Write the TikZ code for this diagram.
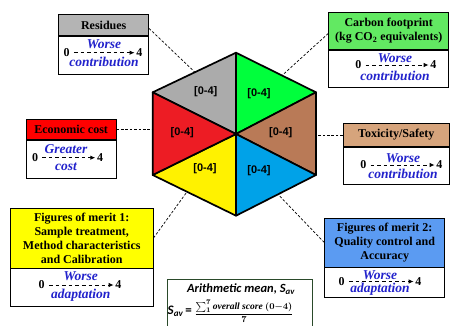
\documentclass[tikz,border=0pt]{standalone}
\usepackage{fontspec}
\setmainfont{Liberation Serif}
\newfontfamily\hexfont{Liberation Sans}
\newfontfamily\calfont{Carlito}
\usetikzlibrary{arrows.meta}
\definecolor{hgray}{HTML}{ABABAB}
\definecolor{hgreen}{HTML}{00FF3C}
\definecolor{hred}{HTML}{ED1C24}
\definecolor{hbrown}{HTML}{B97A57}
\definecolor{hyellow}{HTML}{FFF200}
\definecolor{hblue}{HTML}{00A2E8}
\definecolor{cgray}{HTML}{B4B4B4}
\definecolor{cgreen}{HTML}{62E962}
\definecolor{cred}{HTML}{FF0000}
\definecolor{ctan}{HTML}{D6A47C}
\definecolor{cyellow}{HTML}{FFFF00}
\definecolor{cblue}{HTML}{5B9BF2}
\definecolor{wblue}{HTML}{2222CC}
\definecolor{mgreen}{HTML}{2A4A2A}
\tikzset{
  hdr/.style={draw, line width=0.8pt, inner sep=0pt, anchor=north west,
    font=\fontsize{12}{14}\selectfont\bfseries, align=center},
  bdy/.style={draw, fill=white, line width=0.8pt, inner sep=0pt, anchor=north west},
  numtxt/.style={inner sep=0pt, font=\fontsize{12}{12}\selectfont\bfseries},
  wordtxt/.style={inner sep=0pt, text=wblue, font=\fontsize{13.5}{14}\selectfont\bfseries\itshape},
  scalearrow/.style={line width=0.9pt, dash pattern=on 3.6pt off 3pt, -{Latex[length=5pt,width=4.5pt]}},
  conn/.style={line width=0.7pt, dash pattern=on 2.6pt off 1.8pt},
  hexlab/.style={inner sep=0pt, font=\fontsize{11}{12}\selectfont\hexfont\bfseries},
  sector/.style={draw, line width=1.7pt, line join=round}
}
% prefix, x0, x4, y, xc, top word, ytop, bottom word, ybot
\newcommand{\mkscale}[9]{%
  \node[numtxt] (#1-0) at (#2,#4) {0};
  \node[numtxt] (#1-4) at (#3,#4) {4};
  \node[wordtxt] (#1-t) at (#5,#7) {#6};
  \node[wordtxt] (#1-u) at (#5,#9) {#8};
  \draw[scalearrow] ([xshift=4pt]#1-0.east) -- ([xshift=-1.5pt]#1-4.west);
}
\begin{document}
\begin{tikzpicture}[x=1pt,y=-1pt]
\useasboundingbox (0,0) rectangle (451,325);
% hexagon coordinates
\coordinate (C) at (236,134);
\coordinate (T) at (236,52.7);
\coordinate (UL) at (152.7,92.3);
\coordinate (UR) at (316,92.3);
\coordinate (LL) at (152.7,175);
\coordinate (LR) at (316,175);
\coordinate (B) at (236,215.7);
\coordinate (resE) at (195,72.3);
\coordinate (carE) at (282,75.5);
\coordinate (fmoE) at (187,191.8);
\coordinate (fmtE) at (278,194.3);

% boxes
\node[hdr, fill=cgray, minimum width=90pt, minimum height=20.7pt] (res-h) at (58.3,14.3) {Residues};
\node[bdy, minimum width=90pt, minimum height=37.7pt] (res-b) at (res-h.south west) {};
\node[hdr, fill=cgreen, minimum width=120pt, minimum height=36.7pt] (car-h) at (328.3,12.3) {Carbon footprint\\(kg CO\textsubscript{2} equivalents)};
\node[bdy, minimum width=120pt, minimum height=36.7pt] (car-b) at (car-h.south west) {};
\node[hdr, fill=cred, minimum width=90pt, minimum height=20pt] (eco-h) at (25.7,119.3) {Economic cost};
\node[bdy, minimum width=90pt, minimum height=37.4pt] (eco-b) at (eco-h.south west) {};
\node[hdr, fill=ctan, minimum width=106.3pt, minimum height=22.7pt] (tox-h) at (342.7,123.3) {Toxicity/Safety};
\node[bdy, minimum width=106.3pt, minimum height=36.7pt] (tox-b) at (tox-h.south west) {};
\node[hdr, fill=cyellow, minimum width=142.7pt, minimum height=59.8pt] (fmo-h) at (10,207.7) {Figures of merit 1:\\Sample treatment,\\Method characteristics\\and Calibration};
\node[bdy, minimum width=142.7pt, minimum height=37.5pt] (fmo-b) at (fmo-h.south west) {};
\node[hdr, fill=cblue, minimum width=120pt, minimum height=48.8pt] (fmt-h) at (324.3,217.7) {Figures of merit 2:\\Quality control and\\Accuracy};
\node[bdy, minimum width=120pt, minimum height=29.5pt] (fmt-b) at (fmt-h.south west) {};

% connectors
\draw[conn] ([yshift=-3.4pt]res-h.east) -- (resE);
\draw[conn] ([yshift=-2.4pt]car-h.west) -- (carE);
\draw[conn] (eco-h.east) -- (eco-h.east -| UL);
\draw[conn] (tox-h.west) -- (tox-h.west -| UR);
\draw[conn] (fmo-h.east) -- (fmoE);
\draw[conn] (fmt-h.west) -- (fmtE);

% hexagon
\filldraw[sector, fill=hgray] (C) -- (UL) -- (T) -- cycle;
\filldraw[sector, fill=hgreen] (C) -- (T) -- (UR) -- cycle;
\filldraw[sector, fill=hbrown] (C) -- (UR) -- (LR) -- cycle;
\filldraw[sector, fill=hblue] (C) -- (LR) -- (B) -- cycle;
\filldraw[sector, fill=hyellow] (C) -- (B) -- (LL) -- cycle;
\filldraw[sector, fill=hred] (C) -- (LL) -- (UL) -- cycle;
\node[hexlab] (lab-gray) at (205.7,91.7) {[0-4]};
\node[hexlab] (lab-green) at (259,93.3) {[0-4]};
\node[hexlab] (lab-red) at (182.3,132.7) {[0-4]};
\node[hexlab] (lab-brown) at (280.7,132.7) {[0-4]};
\node[hexlab] (lab-yellow) at (205,168.3) {[0-4]};
\node[hexlab] (lab-blue) at (259,171) {[0-4]};

% scales
\mkscale{res}{66.7}{139.3}{52.7}{104}{Worse}{44.3}{contribution}{62.3}
\mkscale{car}{358.3}{433.3}{65}{395}{Worse}{58.3}{contribution}{76}
\mkscale{eco}{35}{100}{157.7}{66}{Greater}{149}{cost}{167}
\mkscale{tox}{363.3}{439.3}{165}{403}{Worse}{158.3}{contribution}{173.5}
\mkscale{fmo}{41.7}{118.3}{285}{80.7}{Worse}{276.5}{adaptation}{295}
\mkscale{fmt}{341.7}{418.3}{281.5}{380}{Worse}{274.8}{adaptation}{289.5}

% arithmetic mean box
\node[draw=mgreen, line width=0.8pt, anchor=north west, inner sep=0pt, minimum width=145pt, minimum height=60pt] (mean-b) at (166.7,279) {};
\node[inner sep=0pt, font=\fontsize{12.5}{14}\selectfont\calfont\bfseries\itshape] (mean-t) at (241,289) {Arithmetic mean, S\textsubscript{av}};
\node[inner sep=0pt, anchor=base west, font=\fontsize{13}{14}\selectfont\calfont\bfseries\itshape] (mean-s) at (167.5,314.5) {S\textsubscript{av}\,\upshape=};
\node[inner sep=0pt, anchor=west, font=\fontsize{9.5}{11}\selectfont\boldmath] (mean-f) at ([xshift=2pt]mean-s.east) {$\displaystyle\frac{\textstyle\sum\nolimits_1^7 \textbf{\textit{overall score}}\ (0{-}4)}{7}$};
\end{tikzpicture}
\end{document}
